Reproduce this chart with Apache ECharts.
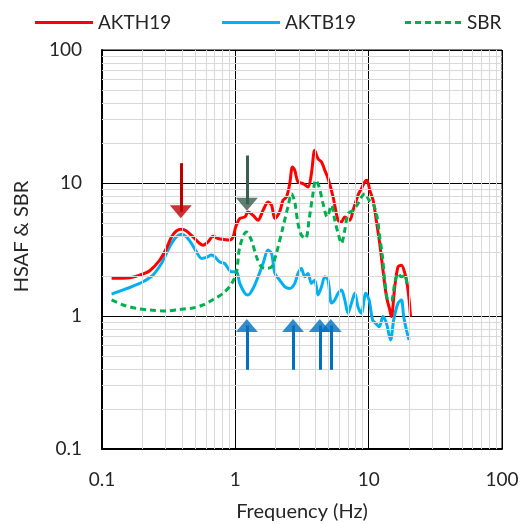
<!DOCTYPE html>
<html>
<head>
<meta charset="utf-8">
<title>HSAF &amp; SBR</title>
<script src="https://cdn.jsdelivr.net/npm/echarts@6/dist/echarts.min.js"></script>
<style>
  html, body { margin: 0; padding: 0; background: #fff; }
  #main { width: 521px; height: 524px; }
</style>
</head>
<body>
<div id="main"></div>
<script>
// AKTH19 (red)
const akthFreq = [0.118, 0.162, 0.192, 0.228, 0.271, 0.304, 0.332, 0.361, 0.394, 0.430,
  0.482, 0.541, 0.573, 0.624, 0.681, 0.741, 0.832, 0.908, 0.962, 1.007,
  1.08, 1.18, 1.245, 1.358, 1.48, 1.614, 1.76, 1.87, 1.98, 2.15,
  2.28, 2.42, 2.56, 2.68, 2.79, 2.95, 3.22, 3.51, 3.72, 3.94,
  4.17, 4.43, 4.69, 4.96, 5.41, 5.89, 6.25, 6.62, 7.21, 7.64,
  8.32, 8.83, 9.35, 9.72, 10.2, 10.8, 11.4, 12.1, 12.8, 13.6,
  14.4, 14.8, 15.7, 16.6, 17.6, 18.7, 19.4, 20.1, 20.6];
const akthVal = [1.92, 1.94, 2.03, 2.19, 2.63, 3.22, 3.93, 4.36, 4.49, 4.36,
  3.93, 3.51, 3.41, 3.61, 3.98, 3.83, 3.76, 3.72, 3.93, 4.68,
  5.41, 5.56, 6.06, 5.72, 5.25, 6.24, 7.2, 6.8, 5.41, 6.06,
  7.42, 7.85, 9.9, 13.2, 12.45, 10.2, 9.9, 9.33, 11.76, 17.6,
  15.2, 14.4, 12.45, 10.8, 7.85, 5.25, 5.1, 5.56, 5.25, 6.24,
  8.09, 9.08, 10.2, 10.5, 8.81, 7.42, 5.25, 3.51, 2.21, 1.40,
  1.11, 0.99, 1.66, 2.34, 2.41, 2.09, 1.76, 1.32, 0.99];

// AKTB19 (light blue)
const aktbFreq = [0.118, 0.144, 0.171, 0.203, 0.241, 0.279, 0.304, 0.332, 0.361, 0.394,
  0.430, 0.469, 0.511, 0.557, 0.607, 0.662, 0.70, 0.764, 0.832, 0.881,
  0.935, 1.02, 1.08, 1.18, 1.245, 1.358, 1.48, 1.614, 1.76, 1.87,
  1.98, 2.15, 2.35, 2.56, 2.79, 2.95, 3.13, 3.32, 3.51, 3.72,
  3.94, 4.17, 4.43, 4.69, 4.96, 5.26, 5.57, 5.89, 6.25, 6.62,
  7.0, 7.43, 7.87, 8.32, 8.83, 9.51, 10.07, 10.7, 11.3, 12.0,
  12.8, 13.6, 14.6, 15.4, 16.6, 17.6, 18.3, 19.2, 20.1];
const aktbVal = [1.46, 1.57, 1.68, 1.81, 2.03, 2.48, 2.95, 3.51, 3.93, 4.12,
  3.93, 3.51, 3.04, 2.71, 2.76, 2.87, 2.79, 2.55, 2.48, 2.28,
  2.15, 2.15, 1.76, 1.48, 1.44, 1.61, 1.97, 2.48, 3.13, 2.95,
  2.09, 1.86, 1.66, 1.61, 1.76, 2.09, 2.28, 1.97, 2.09, 1.76,
  1.86, 1.44, 1.66, 1.97, 1.86, 1.25, 1.32, 1.48, 1.57, 1.32,
  1.05, 1.25, 1.48, 1.17, 1.05, 1.48, 1.32, 0.933, 0.881, 0.831,
  0.99, 0.88, 0.66, 0.933, 1.25, 1.32, 0.99, 0.785, 0.66];

// SBR (green dashed)
const sbrFreq = [0.118, 0.144, 0.181, 0.228, 0.304, 0.383, 0.482, 0.573, 0.681, 0.809,
  0.935, 1.02, 1.08, 1.21, 1.32, 1.44, 1.57, 1.71, 1.87, 2.03,
  2.28, 2.48, 2.64, 2.79, 2.95, 3.13, 3.37, 3.57, 3.79, 4.01,
  4.25, 4.55, 4.88, 5.26, 5.57, 5.89, 6.25, 6.62, 7.0, 7.64,
  8.32, 8.83, 9.35, 10.07, 10.8, 11.56, 12.1, 12.7, 13.2, 14.0,
  14.8, 15.7, 16.6, 17.6, 18.7, 19.4];
const sbrVal = [1.32, 1.21, 1.14, 1.11, 1.09, 1.12, 1.15, 1.21, 1.33, 1.48,
  1.74, 2.14, 3.31, 4.29, 3.72, 2.79, 2.34, 2.28, 2.34, 2.95,
  4.68, 6.61, 8.32, 7.2, 4.96, 4.05, 3.83, 5.25, 7.85, 10.5,
  9.33, 7.0, 5.56, 6.8, 5.25, 4.2, 3.51, 4.42, 5.89, 6.24,
  7.0, 7.85, 8.32, 7.42, 7.0, 5.56, 3.93, 2.79, 1.86, 1.32,
  1.32, 1.76, 2.09, 1.97, 2.03, 1.66];

// arrows (frequency, tail value, arrow head centre value)
const downArrowFreq = [0.39, 1.22];
const downArrowTop = [14.1, 16.1];
const downArrowHead = [6.08, 6.92];
const upArrowFreq = [1.22, 2.71, 4.3, 5.2];
const upArrowBottom = 0.394;
const upArrowHead = 0.849;

// axes
const axisMin = 0.1;
const axisMax = 100;
const decades = [0.1, 1, 10];
const minorSteps = [2, 3, 4, 5, 6, 7, 8, 9];

const font = 'Lato, "Open Sans", sans-serif';
const textColor = '#262626';
const downColors = ['#c00000', '#3a5e4f'];
const upColor = '#0070c0';

function pairs(xs, ys) {
  return xs.map((x, i) => [x, ys[i]]);
}

// minor grid lines at 2..9 of each decade
const minorGrid = [];
decades.forEach(d => {
  minorSteps.forEach(s => {
    const v = +(d * s).toPrecision(3);
    minorGrid.push([{ coord: [v, axisMin] }, { coord: [v, axisMax] }]);
    minorGrid.push([{ coord: [axisMin, v] }, { coord: [axisMax, v] }]);
  });
});

// arrow shafts
const shafts = [];
downArrowFreq.forEach((f, i) => {
  shafts.push([
    { coord: [f, downArrowTop[i]], lineStyle: { color: downColors[i] } },
    { coord: [f, downArrowHead[i]] }
  ]);
});
upArrowFreq.forEach(f => {
  shafts.push([
    { coord: [f, upArrowBottom], lineStyle: { color: upColor } },
    { coord: [f, upArrowHead] }
  ]);
});

// legend icons: solid bar and dashed bar
const solidIcon = 'path://M0,0H58V3H0Z';
const dashIcon = 'path://M0,0H6V3H0Z M10,0H16V3H10Z M20,0H26V3H20Z M30,0H36V3H30Z M40,0H46V3H40Z M50,0H56V3H50Z';

const chart = echarts.init(document.getElementById('main'));

const logAxis = {
  type: 'log',
  logBase: 10,
  min: axisMin,
  max: axisMax,
  nameLocation: 'middle',
  nameTextStyle: { fontFamily: font, fontSize: 20, color: textColor },
  axisLine: { show: true, lineStyle: { color: '#000', width: 2 } },
  axisTick: { show: false },
  axisLabel: {
    fontFamily: font, fontSize: 19, color: textColor,
    formatter: v => String(v)
  },
  splitLine: { show: true, lineStyle: { color: '#000', width: 1 } }
};

const legendBase = {
  top: 8,
  itemWidth: 58,
  itemHeight: 3,
  itemGap: 0,
  textStyle: { fontFamily: font, fontSize: 19, color: textColor }
};

chart.setOption({
  animation: false,
  backgroundColor: '#fff',
  legend: [
    Object.assign({}, legendBase, { left: 30, data: [{ name: 'AKTH19', icon: solidIcon }] }),
    Object.assign({}, legendBase, { left: 217, data: [{ name: 'AKTB19', icon: solidIcon }] }),
    Object.assign({}, legendBase, { left: 400, data: [{ name: 'SBR', icon: dashIcon }] })
  ],
  grid: {
    left: 102, right: 19, top: 50, bottom: 75,
    outerBoundsMode: 'none',
    containLabel: false,
    show: true, borderColor: '#000', borderWidth: 1
  },
  xAxis: Object.assign({}, logAxis, {
    name: 'Frequency (Hz)',
    nameGap: 53,
    axisLabel: Object.assign({}, logAxis.axisLabel, { margin: 21 })
  }),
  yAxis: Object.assign({}, logAxis, {
    name: 'HSAF & SBR',
    nameGap: 70,
    nameTextStyle: Object.assign({}, logAxis.nameTextStyle, { padding: [0, 0, 0, 26] }),
    axisLabel: Object.assign({}, logAxis.axisLabel, { margin: 20 })
  }),
  series: [
    {
      name: 'minor',
      type: 'line',
      data: [],
      z: 1,
      silent: true,
      markLine: {
        silent: true,
        symbol: ['none', 'none'],
        label: { show: false },
        lineStyle: { color: '#d9d9d9', width: 1, type: 'solid' },
        data: minorGrid
      }
    },
    {
      name: 'AKTH19',
      type: 'line',
      data: pairs(akthFreq, akthVal),
      showSymbol: false,
      symbol: 'none',
      smooth: 0.3,
      z: 4,
      lineStyle: { color: '#ff0000', width: 3 },
      itemStyle: { color: '#ff0000' }
    },
    {
      name: 'AKTB19',
      type: 'line',
      data: pairs(aktbFreq, aktbVal),
      showSymbol: false,
      symbol: 'none',
      smooth: 0.3,
      z: 3,
      lineStyle: { color: '#00b0f0', width: 3 },
      itemStyle: { color: '#00b0f0' }
    },
    {
      name: 'SBR',
      type: 'line',
      data: pairs(sbrFreq, sbrVal),
      showSymbol: false,
      symbol: 'none',
      smooth: 0.3,
      z: 5,
      lineStyle: { color: '#00b050', width: 3, type: [6, 4] },
      itemStyle: { color: '#00b050' }
    },
    {
      name: 'shafts',
      type: 'line',
      data: [],
      z: 6,
      silent: true,
      markLine: {
        silent: true,
        symbol: ['none', 'none'],
        label: { show: false },
        lineStyle: { width: 3, type: 'solid' },
        data: shafts
      }
    },
    {
      name: 'downHeads',
      type: 'scatter',
      z: 7,
      silent: true,
      symbol: 'triangle',
      symbolRotate: 180,
      symbolSize: [22, 13],
      data: downArrowFreq.map((f, i) => ({
        value: [f, downArrowHead[i]],
        itemStyle: { color: downColors[i] }
      }))
    },
    {
      name: 'upHeads',
      type: 'scatter',
      z: 7,
      silent: true,
      symbol: 'triangle',
      symbolSize: [22, 13],
      itemStyle: { color: upColor },
      data: upArrowFreq.map(f => [f, upArrowHead])
    }
  ]
});
</script>
</body>
</html>
